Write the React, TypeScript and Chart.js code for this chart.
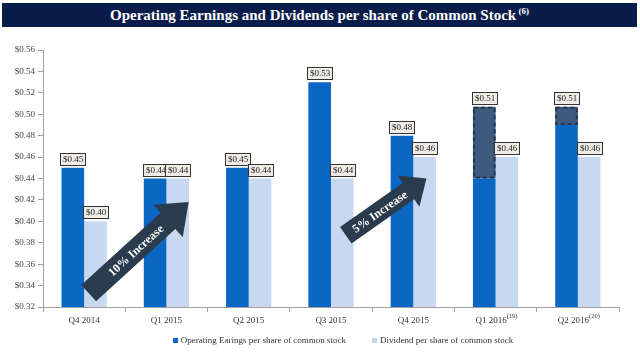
import React, { useEffect, useRef } from 'react';
import { Chart, registerables } from 'chart.js';

Chart.register(...registerables);

// ---------- data ----------
const categories = ['Q4 2014', 'Q1 2015', 'Q2 2015', 'Q3 2015', 'Q4 2015', 'Q1 2016', 'Q2 2016'];
const categoryNotes = ['', '', '', '', '', '(19)', '(20)'];
const operatingEarnings = [0.45, 0.44, 0.45, 0.53, 0.48, 0.44, 0.49];
const operatingEarningsAdjusted = [null, null, null, null, null, 0.507, 0.507];
const dividends = [0.40, 0.44, 0.44, 0.44, 0.46, 0.46, 0.46];
const yMin = 0.32;
const yMax = 0.56;
const yStep = 0.02;
const legendLabels = ['Operating Earings per share of common stock', 'Dividend per share of common stock'];
const titleText = 'Operating Earnings and Dividends per share of Common Stock';
const titleNote = '(6)';

// annotations (arrows), anchored in data space: x = category index, y = value
const arrows = [
  { text: '10% Increase', from: [0.055, 0.333], to: [1.27, 0.418], shaft: 22, headW: 44, headL: 28, textT: 0.47 },
  { text: '5% Increase', from: [3.18, 0.387], to: [4.16, 0.44], shaft: 20, headW: 38, headL: 22, textT: 0.42 },
];

// ---------- styles ----------
const SERIF = "'Liberation Serif', 'Times New Roman', serif";
const DARK_BLUE = '#0b67c4';
const LIGHT_BLUE = '#c6d9f0';
const SLATE = '#3e5a7d';
const ARROW = '#2a3b4d';
const AXIS = '#a0a0a0';
const NOTE_PAD = '\u2002\u2002';

function fmt(v: number) {
  return '$' + v.toFixed(2);
}

function drawLabel(ctx: CanvasRenderingContext2D, text: string, cx: number, topY: number) {
  ctx.save();
  ctx.font = `9px ${SERIF}`;
  const tw = ctx.measureText(text).width;
  const w = Math.round(tw + 5);
  const h = 12;
  const x = Math.round(cx - w / 2) + 0.5;
  const y = Math.round(topY - 3 - h) + 0.5;
  ctx.fillStyle = '#efede6';
  ctx.fillRect(x, y, w, h);
  ctx.strokeStyle = '#333';
  ctx.lineWidth = 1;
  ctx.strokeRect(x, y, w, h);
  ctx.fillStyle = '#222';
  ctx.textAlign = 'center';
  ctx.textBaseline = 'middle';
  ctx.fillText(text, x + w / 2, y + h / 2 + 0.5);
  ctx.restore();
}

const overlayPlugin = {
  id: 'overlay',
  afterDatasetsDraw(chart: any) {
    const ctx: CanvasRenderingContext2D = chart.ctx;
    const xs = chart.scales.x;
    const ys = chart.scales.y;

    // dashed outline on adjusted earnings bars
    const adjMeta = chart.getDatasetMeta(0);
    adjMeta.data.forEach((el: any, i: number) => {
      if (operatingEarningsAdjusted[i] == null) return;
      const p = el.getProps(['x', 'y', 'base', 'width'], true);
      ctx.save();
      ctx.setLineDash([4, 3]);
      ctx.lineWidth = 2;
      ctx.strokeStyle = '#22364f';
      ctx.strokeRect(p.x - p.width / 2 + 1, p.y + 1, p.width - 2, p.base - p.y - 2);
      ctx.restore();
    });

    // arrows
    arrows.forEach((a) => {
      const x0 = xs.getPixelForValue(a.from[0]);
      const y0 = ys.getPixelForValue(a.from[1]);
      const x1 = xs.getPixelForValue(a.to[0]);
      const y1 = ys.getPixelForValue(a.to[1]);
      const L = Math.hypot(x1 - x0, y1 - y0);
      const ang = Math.atan2(y1 - y0, x1 - x0);
      ctx.save();
      ctx.beginPath();
      ctx.rect(chart.chartArea.left, chart.chartArea.top, chart.chartArea.right - chart.chartArea.left, chart.chartArea.bottom - chart.chartArea.top);
      ctx.clip();
      ctx.translate(x0, y0);
      ctx.rotate(ang);
      ctx.beginPath();
      ctx.moveTo(0, -a.shaft / 2);
      ctx.lineTo(L - a.headL, -a.shaft / 2);
      ctx.lineTo(L - a.headL, -a.headW / 2);
      ctx.lineTo(L, 0);
      ctx.lineTo(L - a.headL, a.headW / 2);
      ctx.lineTo(L - a.headL, a.shaft / 2);
      ctx.lineTo(0, a.shaft / 2);
      ctx.closePath();
      ctx.fillStyle = ARROW;
      ctx.fill();
      ctx.fillStyle = '#ffffff';
      ctx.font = `bold 12px ${SERIF}`;
      ctx.textAlign = 'center';
      ctx.textBaseline = 'middle';
      ctx.fillText(a.text, L * a.textT, 1);
      ctx.restore();
    });

    // value labels
    const eMeta = chart.getDatasetMeta(1);
    const dMeta = chart.getDatasetMeta(2);
    categories.forEach((_, i) => {
      const ev = operatingEarningsAdjusted[i] ?? operatingEarnings[i];
      drawLabel(ctx, fmt(ev), eMeta.data[i].x, ys.getPixelForValue(ev));
      const dv = dividends[i];
      drawLabel(ctx, fmt(dv), dMeta.data[i].x, ys.getPixelForValue(dv));
    });
  },
  afterDraw(chart: any) {
    const ctx: CanvasRenderingContext2D = chart.ctx;
    const ca = chart.chartArea;
    const xs = chart.scales.x;

    // superscript notes on category labels
    ctx.save();
    categories.forEach((c, i) => {
      const note = categoryNotes[i];
      if (!note) return;
      ctx.font = `9px ${SERIF}`;
      const lw = ctx.measureText(c).width;
      const full = ctx.measureText(c + NOTE_PAD).width;
      const nx = xs.getPixelForTick(i) - full / 2 + lw;
      ctx.font = `6.5px ${SERIF}`;
      ctx.fillStyle = '#333';
      ctx.textAlign = 'left';
      ctx.textBaseline = 'top';
      ctx.fillText(note, nx, ca.bottom + 6);
    });
    ctx.restore();

    // legend
    ctx.save();
    ctx.font = `9px ${SERIF}`;
    const box = 5;
    const gapBox = 3;
    const gapItem = 26;
    const w1 = ctx.measureText(legendLabels[0]).width;
    const w2 = ctx.measureText(legendLabels[1]).width;
    const total = box + gapBox + w1 + gapItem + box + gapBox + w2;
    const cy = 341;
    let x = (ca.left + ca.right) / 2 + 12 - total / 2;
    const colors = [DARK_BLUE, LIGHT_BLUE];
    [w1, w2].forEach((w, k) => {
      ctx.fillStyle = colors[k];
      ctx.fillRect(Math.round(x), cy - 3, box, box);
      x += box + gapBox;
      ctx.fillStyle = '#333';
      ctx.textAlign = 'left';
      ctx.textBaseline = 'middle';
      ctx.fillText(legendLabels[k], x, cy);
      x += w + gapItem;
    });
    ctx.restore();
  },
};

export default function App() {
  const ref = useRef<HTMLCanvasElement>(null);

  useEffect(() => {
    if (!ref.current) return;
    const chart = new Chart(ref.current, {
      type: 'bar',
      data: {
        labels: categories,
        datasets: [
          {
            label: 'Operating Earnings (adjusted)',
            data: operatingEarningsAdjusted.map((v, i) => (v == null ? null : [operatingEarnings[i], v])) as any,
            backgroundColor: SLATE,
            stack: 'earnings',
            categoryPercentage: 0.55,
            barPercentage: 1.0,
          },
          {
            label: legendLabels[0],
            data: operatingEarnings,
            backgroundColor: DARK_BLUE,
            stack: 'earnings',
            categoryPercentage: 0.55,
            barPercentage: 1.0,
          },
          {
            label: legendLabels[1],
            data: dividends,
            backgroundColor: LIGHT_BLUE,
            stack: 'dividends',
            categoryPercentage: 0.55,
            barPercentage: 1.0,
          },
        ],
      },
      options: {
        responsive: false,
        animation: false,
        layout: { padding: { top: 50, left: 0, right: 21, bottom: 0 } },
        plugins: {
          legend: { display: false },
          tooltip: { enabled: false },
          title: { display: false },
        },
        scales: {
          x: {
            grid: { drawOnChartArea: false, drawTicks: true, tickLength: 5, color: AXIS, offset: true },
            border: { display: true, color: AXIS },
            ticks: {
              font: { family: SERIF, size: 9 },
              color: '#333',
              padding: 3,
              maxRotation: 0,
              autoSkip: false,
              callback: (_v: any, i: number) => categories[i] + (categoryNotes[i] ? NOTE_PAD : ''),
            },
            afterFit: (s: any) => {
              s.height = 45;
            },
          },
          y: {
            stacked: false,
            min: yMin,
            max: yMax,
            grid: { drawOnChartArea: false, drawTicks: true, tickLength: 5, color: AXIS },
            border: { display: true, color: AXIS },
            ticks: {
              stepSize: yStep,
              font: { family: SERIF, size: 9 },
              color: '#444',
              padding: 3,
              callback: (v: any) => '$' + Number(v).toFixed(2),
            },
            afterFit: (s: any) => {
              s.width = 43;
            },
          },
        },
      },
      plugins: [overlayPlugin],
    });
    return () => chart.destroy();
  }, []);

  return (
    <div style={{ position: 'absolute', left: 0, top: 0, width: 640, height: 352, background: '#fff' }}>
      <canvas ref={ref} width={640} height={352} style={{ position: 'absolute', left: 0, top: 0 }} />
      <div
        style={{
          position: 'absolute',
          left: 2,
          top: 3,
          width: 635,
          height: 24,
          background: '#0a1c4a',
          color: '#fff',
          fontFamily: SERIF,
          fontWeight: 'bold',
          fontSize: 15,
          lineHeight: '24px',
          textAlign: 'center',
          whiteSpace: 'nowrap',
        }}
      >
        {titleText}
        <sup style={{ fontSize: 9, lineHeight: 0, verticalAlign: 'super' }}> {titleNote}</sup>
      </div>
    </div>
  );
}
